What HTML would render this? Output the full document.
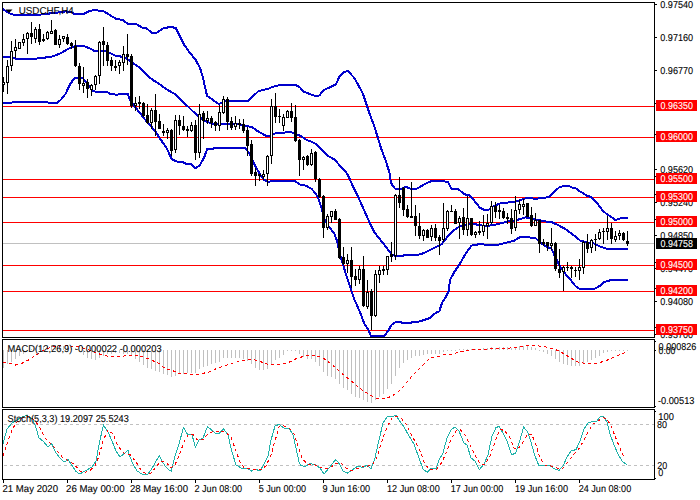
<!DOCTYPE html>
<html><head><meta charset="utf-8"><title>USDCHF,H4</title>
<style>html,body{margin:0;padding:0;background:#fff}svg{display:block}text{font-family:"Liberation Sans",Arial,sans-serif;text-rendering:geometricPrecision}</style></head>
<body>
<svg width="700" height="500" viewBox="0 0 700 500">
<rect width="700" height="500" fill="#fff"/>
<g shape-rendering="crispEdges">
<rect x="3" y="243" width="651" height="1" fill="#C0C0C0"/>
<rect x="3" y="106" width="652" height="1" fill="#FF0000"/>
<rect x="3" y="137" width="652" height="1" fill="#FF0000"/>
<rect x="3" y="179" width="652" height="1" fill="#FF0000"/>
<rect x="3" y="197" width="652" height="1" fill="#FF0000"/>
<rect x="3" y="222" width="652" height="1" fill="#FF0000"/>
<rect x="3" y="265" width="652" height="1" fill="#FF0000"/>
<rect x="3" y="291" width="652" height="1" fill="#FF0000"/>
<rect x="3" y="330" width="652" height="1" fill="#FF0000"/>
</g>
<g shape-rendering="crispEdges" fill="#C0C0C0">
<rect x="3" y="350" width="1" height="18"/>
<rect x="7" y="350" width="1" height="14"/>
<rect x="11" y="350" width="1" height="12"/>
<rect x="15" y="350" width="1" height="9"/>
<rect x="19" y="350" width="1" height="6"/>
<rect x="23" y="350" width="1" height="4"/>
<rect x="27" y="350" width="1" height="1"/>
<rect x="31" y="349" width="1" height="1"/>
<rect x="35" y="348" width="1" height="2"/>
<rect x="39" y="346" width="1" height="4"/>
<rect x="43" y="346" width="1" height="4"/>
<rect x="47" y="346" width="1" height="4"/>
<rect x="51" y="345" width="1" height="5"/>
<rect x="55" y="345" width="1" height="5"/>
<rect x="59" y="346" width="1" height="4"/>
<rect x="63" y="346" width="1" height="4"/>
<rect x="67" y="346" width="1" height="4"/>
<rect x="71" y="348" width="1" height="2"/>
<rect x="75" y="348" width="1" height="2"/>
<rect x="79" y="350" width="1" height="1"/>
<rect x="83" y="350" width="1" height="5"/>
<rect x="87" y="350" width="1" height="8"/>
<rect x="91" y="350" width="1" height="9"/>
<rect x="95" y="350" width="1" height="10"/>
<rect x="99" y="350" width="1" height="8"/>
<rect x="103" y="350" width="1" height="6"/>
<rect x="107" y="350" width="1" height="4"/>
<rect x="111" y="350" width="1" height="4"/>
<rect x="115" y="350" width="1" height="3"/>
<rect x="119" y="350" width="1" height="3"/>
<rect x="123" y="350" width="1" height="4"/>
<rect x="127" y="350" width="1" height="4"/>
<rect x="131" y="350" width="1" height="6"/>
<rect x="135" y="350" width="1" height="9"/>
<rect x="139" y="350" width="1" height="12"/>
<rect x="143" y="350" width="1" height="15"/>
<rect x="147" y="350" width="1" height="18"/>
<rect x="151" y="350" width="1" height="19"/>
<rect x="155" y="350" width="1" height="21"/>
<rect x="159" y="350" width="1" height="22"/>
<rect x="163" y="350" width="1" height="24"/>
<rect x="167" y="350" width="1" height="25"/>
<rect x="171" y="350" width="1" height="27"/>
<rect x="175" y="350" width="1" height="26"/>
<rect x="179" y="350" width="1" height="24"/>
<rect x="183" y="350" width="1" height="24"/>
<rect x="187" y="350" width="1" height="23"/>
<rect x="191" y="350" width="1" height="23"/>
<rect x="195" y="350" width="1" height="23"/>
<rect x="199" y="350" width="1" height="19"/>
<rect x="203" y="350" width="1" height="17"/>
<rect x="207" y="350" width="1" height="16"/>
<rect x="211" y="350" width="1" height="14"/>
<rect x="215" y="350" width="1" height="13"/>
<rect x="219" y="350" width="1" height="12"/>
<rect x="223" y="350" width="1" height="8"/>
<rect x="227" y="350" width="1" height="8"/>
<rect x="231" y="350" width="1" height="8"/>
<rect x="235" y="350" width="1" height="8"/>
<rect x="239" y="350" width="1" height="8"/>
<rect x="243" y="350" width="1" height="9"/>
<rect x="247" y="350" width="1" height="11"/>
<rect x="251" y="350" width="1" height="14"/>
<rect x="255" y="350" width="1" height="18"/>
<rect x="259" y="350" width="1" height="20"/>
<rect x="263" y="350" width="1" height="20"/>
<rect x="267" y="350" width="1" height="19"/>
<rect x="271" y="350" width="1" height="14"/>
<rect x="275" y="350" width="1" height="10"/>
<rect x="279" y="350" width="1" height="8"/>
<rect x="283" y="350" width="1" height="5"/>
<rect x="287" y="350" width="1" height="1"/>
<rect x="291" y="350" width="1" height="1"/>
<rect x="295" y="350" width="1" height="1"/>
<rect x="299" y="350" width="1" height="4"/>
<rect x="303" y="350" width="1" height="7"/>
<rect x="307" y="350" width="1" height="9"/>
<rect x="311" y="350" width="1" height="9"/>
<rect x="315" y="350" width="1" height="12"/>
<rect x="319" y="350" width="1" height="16"/>
<rect x="323" y="350" width="1" height="22"/>
<rect x="327" y="350" width="1" height="26"/>
<rect x="331" y="350" width="1" height="27"/>
<rect x="335" y="350" width="1" height="29"/>
<rect x="339" y="350" width="1" height="34"/>
<rect x="343" y="350" width="1" height="38"/>
<rect x="347" y="350" width="1" height="40"/>
<rect x="351" y="350" width="1" height="44"/>
<rect x="355" y="350" width="1" height="47"/>
<rect x="359" y="350" width="1" height="48"/>
<rect x="363" y="350" width="1" height="50"/>
<rect x="367" y="350" width="1" height="52"/>
<rect x="371" y="350" width="1" height="53"/>
<rect x="375" y="350" width="1" height="50"/>
<rect x="379" y="350" width="1" height="47"/>
<rect x="383" y="350" width="1" height="44"/>
<rect x="387" y="350" width="1" height="39"/>
<rect x="391" y="350" width="1" height="34"/>
<rect x="395" y="350" width="1" height="26"/>
<rect x="399" y="350" width="1" height="18"/>
<rect x="403" y="350" width="1" height="13"/>
<rect x="407" y="350" width="1" height="10"/>
<rect x="411" y="350" width="1" height="8"/>
<rect x="415" y="350" width="1" height="6"/>
<rect x="419" y="350" width="1" height="6"/>
<rect x="423" y="350" width="1" height="5"/>
<rect x="427" y="350" width="1" height="4"/>
<rect x="431" y="350" width="1" height="4"/>
<rect x="435" y="350" width="1" height="4"/>
<rect x="439" y="350" width="1" height="4"/>
<rect x="443" y="350" width="1" height="2"/>
<rect x="447" y="350" width="1" height="1"/>
<rect x="451" y="350" width="1" height="1"/>
<rect x="455" y="350" width="1" height="1"/>
<rect x="459" y="349" width="1" height="1"/>
<rect x="463" y="349" width="1" height="1"/>
<rect x="467" y="349" width="1" height="1"/>
<rect x="471" y="349" width="1" height="1"/>
<rect x="475" y="349" width="1" height="1"/>
<rect x="479" y="349" width="1" height="1"/>
<rect x="483" y="348" width="1" height="2"/>
<rect x="487" y="348" width="1" height="2"/>
<rect x="491" y="347" width="1" height="3"/>
<rect x="495" y="348" width="1" height="2"/>
<rect x="499" y="347" width="1" height="3"/>
<rect x="503" y="347" width="1" height="3"/>
<rect x="507" y="347" width="1" height="3"/>
<rect x="511" y="348" width="1" height="2"/>
<rect x="515" y="347" width="1" height="3"/>
<rect x="519" y="346" width="1" height="4"/>
<rect x="523" y="346" width="1" height="4"/>
<rect x="527" y="346" width="1" height="4"/>
<rect x="531" y="347" width="1" height="3"/>
<rect x="535" y="348" width="1" height="2"/>
<rect x="539" y="350" width="1" height="1"/>
<rect x="543" y="350" width="1" height="2"/>
<rect x="547" y="350" width="1" height="4"/>
<rect x="551" y="350" width="1" height="6"/>
<rect x="555" y="350" width="1" height="9"/>
<rect x="559" y="350" width="1" height="12"/>
<rect x="563" y="350" width="1" height="14"/>
<rect x="567" y="350" width="1" height="15"/>
<rect x="571" y="350" width="1" height="16"/>
<rect x="575" y="350" width="1" height="16"/>
<rect x="579" y="350" width="1" height="16"/>
<rect x="583" y="350" width="1" height="13"/>
<rect x="587" y="350" width="1" height="12"/>
<rect x="591" y="350" width="1" height="10"/>
<rect x="595" y="350" width="1" height="8"/>
<rect x="599" y="350" width="1" height="6"/>
<rect x="603" y="350" width="1" height="3"/>
<rect x="607" y="350" width="1" height="2"/>
<rect x="611" y="350" width="1" height="1"/>
<rect x="615" y="350" width="1" height="1"/>
<rect x="619" y="350" width="1" height="1"/>
<rect x="623" y="350" width="1" height="1"/>
<rect x="627" y="350" width="1" height="1"/>
</g>
<g shape-rendering="crispEdges" stroke="#C0C0C0" stroke-width="1" stroke-dasharray="3,3">
<line x1="4" y1="424.5" x2="654" y2="424.5"/>
<line x1="4" y1="465.5" x2="654" y2="465.5"/>
</g>
<g fill="none" stroke="#0000CC" stroke-width="2" stroke-linejoin="round" stroke-linecap="butt" shape-rendering="crispEdges">
<polyline points="2.9,9.3 10.0,13.6 15.7,15.4 34.0,15.4 43.0,14.3 57.0,12.6 65.7,11.4 71.4,12.1 74.3,14.3 83.0,14.3 88.6,11.4 92.9,10.3 102.9,10.7 108.6,14.3 115.7,18.6 122.9,20.0 127.9,23.9 135.7,23.9 142.9,27.9 147.0,28.6 151.4,32.6 157.0,32.6 162.9,28.6 170.0,26.9 175.7,27.9 180.0,36.4 184.3,45.0 190.0,52.9 195.7,60.0 200.0,67.9 202.9,77.1 205.0,87.1 207.0,95.7 212.9,100.0 218.6,104.0 221.4,102.9 225.7,100.9 240.0,101.1 247.0,101.5 252.9,96.4 258.6,91.0 268.6,88.6 275.7,85.7 287.0,84.8 295.7,85.0 300.0,87.5 303.6,91.7 310.0,94.0 314.3,95.7 319.3,95.5 323.6,90.0 328.6,87.9 335.7,84.5 339.3,77.1 343.6,72.1 347.9,71.1 354.3,77.9 358.6,85.7 362.9,93.6 366.4,104.3 369.3,112.9 372.0,120.0 374.3,126.4 377.9,137.9 381.4,149.3 385.7,160.7 389.3,172.1 390.7,180.7 392.0,185.0 395.7,189.3 401.4,189.3 405.7,186.7 410.0,188.6 417.0,188.6 424.3,184.3 431.4,181.0 440.0,180.7 447.9,181.9 451.4,188.6 458.6,189.3 464.3,194.3 468.6,195.0 474.3,200.7 480.0,207.9 484.3,209.8 488.6,209.7 494.3,205.7 501.4,203.1 512.9,202.1 518.6,200.7 525.7,198.3 537.0,198.6 544.3,197.9 550.0,196.4 554.3,191.8 559.3,187.3 564.3,185.8 568.6,185.8 571.4,187.4 575.7,188.4 580.0,191.4 587.0,195.7 591.4,197.1 597.0,202.9 602.9,210.7 607.0,214.3 611.4,217.1 615.0,219.7 617.0,219.5 621.4,217.9 628.0,217.9"/>
<polyline points="2.9,56.9 11.4,57.1 15.7,58.9 32.9,58.9 42.9,57.9 52.9,56.4 60.0,53.6 68.6,48.6 75.7,45.7 82.9,45.7 88.6,47.9 94.3,50.8 107.0,51.4 115.7,56.0 124.3,56.9 131.4,62.0 138.6,67.0 147.0,75.3 152.9,80.0 158.6,83.6 167.0,89.5 175.7,94.6 182.9,102.1 185.7,104.3 192.9,111.4 198.6,116.4 204.3,120.7 211.4,123.6 221.4,124.3 230.0,123.6 238.6,124.0 244.3,126.0 251.4,126.7 257.0,130.7 265.7,135.7 270.5,135.7 276.0,132.9 287.0,132.4 290.0,131.6 294.3,133.6 300.0,135.7 307.0,140.0 314.3,142.9 320.0,147.9 325.7,153.6 328.6,156.4 334.3,159.3 340.0,165.7 345.7,171.4 349.3,177.9 352.9,186.4 358.6,197.9 364.3,210.7 370.0,223.6 374.3,232.1 380.0,239.3 385.7,246.4 391.4,254.3 394.3,255.7 402.9,255.7 405.7,254.7 418.6,254.7 424.3,252.9 432.9,248.6 441.4,244.3 444.3,240.7 450.0,233.6 457.0,227.9 462.9,225.0 472.9,223.6 478.6,225.0 485.7,226.0 494.3,225.0 508.6,221.4 517.0,220.0 525.7,217.4 531.4,218.3 537.0,219.7 542.9,221.1 551.4,222.1 557.0,224.5 565.7,229.3 574.3,235.7 580.0,240.4 587.0,242.4 594.3,243.6 600.0,246.6 607.0,248.7 628.0,248.8"/>
<polyline points="2.9,102.9 11.4,102.9 12.9,101.7 47.0,101.7 48.6,102.9 57.0,102.9 61.4,99.3 65.7,93.6 70.0,84.3 74.3,78.3 82.9,78.3 87.0,82.9 92.9,90.7 95.7,91.9 107.0,91.7 110.0,94.0 115.7,94.6 124.3,94.3 127.9,94.3 130.7,101.4 132.9,104.3 137.0,109.3 141.4,115.0 147.0,122.0 150.0,124.5 152.9,128.5 155.7,132.0 160.0,138.6 167.0,148.6 171.4,158.6 175.7,161.4 182.9,162.1 185.7,163.6 191.4,164.0 195.7,168.3 200.0,165.0 204.3,157.1 207.0,149.3 214.3,148.4 215.7,147.8 242.9,147.8 245.7,148.6 250.0,154.3 254.3,164.3 260.0,174.3 264.3,180.0 268.6,181.7 274.3,180.7 294.3,180.7 300.0,184.6 305.7,185.7 311.4,188.6 315.7,193.6 318.6,199.3 321.4,207.9 325.0,220.7 328.6,226.4 334.3,233.6 337.0,240.7 338.6,247.9 341.4,259.3 345.7,273.6 350.0,286.4 354.3,299.3 360.0,312.1 364.3,323.6 368.6,330.0 370.7,335.7 384.3,335.7 387.9,331.4 391.4,325.0 395.7,321.9 401.4,321.9 402.0,322.8 411.4,322.8 412.9,321.7 418.6,321.7 424.3,320.0 430.0,317.9 435.7,312.9 439.3,311.4 442.0,302.9 445.7,297.1 448.6,291.4 450.0,280.0 454.3,272.1 460.0,263.6 465.7,253.6 471.4,245.7 480.0,244.0 488.6,245.0 498.6,244.7 508.6,242.1 514.3,240.7 520.0,237.1 527.0,237.1 535.7,238.3 540.0,242.5 545.7,246.4 551.4,248.6 555.7,257.9 560.0,266.4 565.7,274.3 571.4,280.7 575.7,286.4 579.3,288.6 595.0,288.6 600.0,285.7 604.3,282.1 610.0,280.4 614.3,279.7 628.0,279.7"/>
</g>
<g shape-rendering="crispEdges">
<rect x="3" y="77" width="1" height="15" fill="#000"/>
<rect x="2" y="82" width="3" height="3" fill="#000"/>
<rect x="3" y="83" width="1" height="1" fill="#fff"/>
<rect x="7" y="60" width="1" height="34" fill="#000"/>
<rect x="6" y="66" width="3" height="17" fill="#000"/>
<rect x="7" y="67" width="1" height="15" fill="#fff"/>
<rect x="11" y="41" width="1" height="30" fill="#000"/>
<rect x="10" y="51" width="3" height="15" fill="#000"/>
<rect x="11" y="52" width="1" height="13" fill="#fff"/>
<rect x="15" y="39" width="1" height="19" fill="#000"/>
<rect x="14" y="47" width="3" height="4" fill="#000"/>
<rect x="15" y="48" width="1" height="2" fill="#fff"/>
<rect x="19" y="42" width="1" height="7" fill="#000"/>
<rect x="18" y="42" width="3" height="7" fill="#000"/>
<rect x="19" y="43" width="1" height="5" fill="#fff"/>
<rect x="23" y="34" width="1" height="12" fill="#000"/>
<rect x="22" y="39" width="3" height="4" fill="#000"/>
<rect x="23" y="40" width="1" height="2" fill="#fff"/>
<rect x="27" y="32" width="1" height="22" fill="#000"/>
<rect x="26" y="33" width="3" height="6" fill="#000"/>
<rect x="27" y="34" width="1" height="4" fill="#fff"/>
<rect x="31" y="22" width="1" height="22" fill="#000"/>
<rect x="30" y="33" width="3" height="4" fill="#000"/>
<rect x="35" y="27" width="1" height="16" fill="#000"/>
<rect x="34" y="29" width="3" height="10" fill="#000"/>
<rect x="35" y="30" width="1" height="8" fill="#fff"/>
<rect x="39" y="24" width="1" height="21" fill="#000"/>
<rect x="38" y="29" width="3" height="13" fill="#000"/>
<rect x="43" y="34" width="1" height="8" fill="#000"/>
<rect x="42" y="39" width="3" height="2" fill="#000"/>
<rect x="47" y="31" width="1" height="9" fill="#000"/>
<rect x="46" y="32" width="3" height="7" fill="#000"/>
<rect x="47" y="33" width="1" height="5" fill="#fff"/>
<rect x="51" y="20" width="1" height="14" fill="#000"/>
<rect x="50" y="31" width="3" height="3" fill="#000"/>
<rect x="51" y="32" width="1" height="1" fill="#fff"/>
<rect x="55" y="29" width="1" height="16" fill="#000"/>
<rect x="54" y="30" width="3" height="15" fill="#000"/>
<rect x="59" y="35" width="1" height="13" fill="#000"/>
<rect x="58" y="39" width="3" height="6" fill="#000"/>
<rect x="59" y="40" width="1" height="4" fill="#fff"/>
<rect x="63" y="36" width="1" height="6" fill="#000"/>
<rect x="62" y="36" width="3" height="3" fill="#000"/>
<rect x="63" y="37" width="1" height="1" fill="#fff"/>
<rect x="67" y="34" width="1" height="11" fill="#000"/>
<rect x="66" y="37" width="3" height="7" fill="#000"/>
<rect x="71" y="42" width="1" height="7" fill="#000"/>
<rect x="70" y="43" width="3" height="3" fill="#000"/>
<rect x="75" y="40" width="1" height="27" fill="#000"/>
<rect x="74" y="46" width="3" height="20" fill="#000"/>
<rect x="79" y="63" width="1" height="27" fill="#000"/>
<rect x="78" y="66" width="3" height="18" fill="#000"/>
<rect x="83" y="67" width="1" height="26" fill="#000"/>
<rect x="82" y="83" width="3" height="3" fill="#000"/>
<rect x="83" y="84" width="1" height="1" fill="#fff"/>
<rect x="87" y="79" width="1" height="19" fill="#000"/>
<rect x="86" y="82" width="3" height="7" fill="#000"/>
<rect x="91" y="84" width="1" height="12" fill="#000"/>
<rect x="90" y="85" width="3" height="5" fill="#000"/>
<rect x="91" y="86" width="1" height="3" fill="#fff"/>
<rect x="95" y="75" width="1" height="15" fill="#000"/>
<rect x="94" y="76" width="3" height="9" fill="#000"/>
<rect x="95" y="77" width="1" height="7" fill="#fff"/>
<rect x="99" y="41" width="1" height="43" fill="#000"/>
<rect x="98" y="42" width="3" height="34" fill="#000"/>
<rect x="99" y="43" width="1" height="32" fill="#fff"/>
<rect x="103" y="27" width="1" height="39" fill="#000"/>
<rect x="102" y="41" width="3" height="4" fill="#000"/>
<rect x="107" y="42" width="1" height="24" fill="#000"/>
<rect x="106" y="45" width="3" height="16" fill="#000"/>
<rect x="111" y="57" width="1" height="14" fill="#000"/>
<rect x="110" y="60" width="3" height="6" fill="#000"/>
<rect x="115" y="60" width="1" height="11" fill="#000"/>
<rect x="114" y="66" width="3" height="2" fill="#000"/>
<rect x="119" y="60" width="1" height="14" fill="#000"/>
<rect x="118" y="62" width="3" height="4" fill="#000"/>
<rect x="119" y="63" width="1" height="2" fill="#fff"/>
<rect x="123" y="46" width="1" height="25" fill="#000"/>
<rect x="122" y="54" width="3" height="9" fill="#000"/>
<rect x="123" y="55" width="1" height="7" fill="#fff"/>
<rect x="127" y="34" width="1" height="31" fill="#000"/>
<rect x="126" y="54" width="3" height="3" fill="#000"/>
<rect x="131" y="54" width="1" height="54" fill="#000"/>
<rect x="130" y="56" width="3" height="50" fill="#000"/>
<rect x="135" y="97" width="1" height="14" fill="#000"/>
<rect x="134" y="103" width="3" height="3" fill="#000"/>
<rect x="135" y="104" width="1" height="1" fill="#fff"/>
<rect x="139" y="96" width="1" height="13" fill="#000"/>
<rect x="138" y="102" width="3" height="2" fill="#000"/>
<rect x="143" y="102" width="1" height="15" fill="#000"/>
<rect x="142" y="103" width="3" height="13" fill="#000"/>
<rect x="147" y="104" width="1" height="20" fill="#000"/>
<rect x="146" y="115" width="3" height="8" fill="#000"/>
<rect x="151" y="108" width="1" height="21" fill="#000"/>
<rect x="150" y="110" width="3" height="13" fill="#000"/>
<rect x="151" y="111" width="1" height="11" fill="#fff"/>
<rect x="155" y="94" width="1" height="42" fill="#000"/>
<rect x="154" y="110" width="3" height="12" fill="#000"/>
<rect x="159" y="114" width="1" height="15" fill="#000"/>
<rect x="158" y="121" width="3" height="8" fill="#000"/>
<rect x="163" y="124" width="1" height="12" fill="#000"/>
<rect x="162" y="131" width="3" height="2" fill="#000"/>
<rect x="167" y="128" width="1" height="11" fill="#000"/>
<rect x="166" y="130" width="3" height="3" fill="#000"/>
<rect x="167" y="131" width="1" height="1" fill="#fff"/>
<rect x="171" y="129" width="1" height="27" fill="#000"/>
<rect x="170" y="130" width="3" height="21" fill="#000"/>
<rect x="175" y="115" width="1" height="38" fill="#000"/>
<rect x="174" y="120" width="3" height="30" fill="#000"/>
<rect x="175" y="121" width="1" height="28" fill="#fff"/>
<rect x="179" y="115" width="1" height="20" fill="#000"/>
<rect x="178" y="120" width="3" height="6" fill="#000"/>
<rect x="183" y="116" width="1" height="15" fill="#000"/>
<rect x="182" y="126" width="3" height="4" fill="#000"/>
<rect x="187" y="126" width="1" height="11" fill="#000"/>
<rect x="186" y="129" width="3" height="2" fill="#000"/>
<rect x="191" y="122" width="1" height="10" fill="#000"/>
<rect x="190" y="125" width="3" height="6" fill="#000"/>
<rect x="191" y="126" width="1" height="4" fill="#fff"/>
<rect x="195" y="120" width="1" height="40" fill="#000"/>
<rect x="194" y="125" width="3" height="28" fill="#000"/>
<rect x="199" y="104" width="1" height="54" fill="#000"/>
<rect x="198" y="114" width="3" height="39" fill="#000"/>
<rect x="199" y="115" width="1" height="37" fill="#fff"/>
<rect x="203" y="111" width="1" height="28" fill="#000"/>
<rect x="202" y="113" width="3" height="8" fill="#000"/>
<rect x="207" y="111" width="1" height="13" fill="#000"/>
<rect x="206" y="118" width="3" height="3" fill="#000"/>
<rect x="207" y="119" width="1" height="1" fill="#fff"/>
<rect x="211" y="116" width="1" height="12" fill="#000"/>
<rect x="210" y="118" width="3" height="5" fill="#000"/>
<rect x="215" y="121" width="1" height="10" fill="#000"/>
<rect x="214" y="122" width="3" height="4" fill="#000"/>
<rect x="219" y="105" width="1" height="26" fill="#000"/>
<rect x="218" y="112" width="3" height="14" fill="#000"/>
<rect x="219" y="113" width="1" height="12" fill="#fff"/>
<rect x="223" y="96" width="1" height="18" fill="#000"/>
<rect x="222" y="99" width="3" height="14" fill="#000"/>
<rect x="223" y="100" width="1" height="12" fill="#fff"/>
<rect x="227" y="97" width="1" height="33" fill="#000"/>
<rect x="226" y="99" width="3" height="23" fill="#000"/>
<rect x="231" y="117" width="1" height="13" fill="#000"/>
<rect x="230" y="121" width="3" height="7" fill="#000"/>
<rect x="235" y="116" width="1" height="14" fill="#000"/>
<rect x="234" y="123" width="3" height="4" fill="#000"/>
<rect x="235" y="124" width="1" height="2" fill="#fff"/>
<rect x="239" y="119" width="1" height="10" fill="#000"/>
<rect x="238" y="123" width="3" height="2" fill="#000"/>
<rect x="243" y="119" width="1" height="14" fill="#000"/>
<rect x="242" y="124" width="3" height="7" fill="#000"/>
<rect x="247" y="127" width="1" height="29" fill="#000"/>
<rect x="246" y="130" width="3" height="16" fill="#000"/>
<rect x="251" y="140" width="1" height="36" fill="#000"/>
<rect x="250" y="144" width="3" height="30" fill="#000"/>
<rect x="255" y="168" width="1" height="18" fill="#000"/>
<rect x="254" y="172" width="3" height="4" fill="#000"/>
<rect x="259" y="174" width="1" height="7" fill="#000"/>
<rect x="258" y="174" width="3" height="2" fill="#000"/>
<rect x="263" y="170" width="1" height="10" fill="#000"/>
<rect x="262" y="174" width="3" height="3" fill="#000"/>
<rect x="263" y="175" width="1" height="1" fill="#fff"/>
<rect x="267" y="155" width="1" height="31" fill="#000"/>
<rect x="266" y="156" width="3" height="18" fill="#000"/>
<rect x="267" y="157" width="1" height="16" fill="#fff"/>
<rect x="271" y="99" width="1" height="65" fill="#000"/>
<rect x="270" y="106" width="3" height="50" fill="#000"/>
<rect x="271" y="107" width="1" height="48" fill="#fff"/>
<rect x="275" y="93" width="1" height="30" fill="#000"/>
<rect x="274" y="106" width="3" height="11" fill="#000"/>
<rect x="279" y="109" width="1" height="14" fill="#000"/>
<rect x="278" y="116" width="3" height="1" fill="#000"/>
<rect x="283" y="114" width="1" height="17" fill="#000"/>
<rect x="282" y="117" width="3" height="9" fill="#000"/>
<rect x="283" y="118" width="1" height="7" fill="#fff"/>
<rect x="287" y="110" width="1" height="8" fill="#000"/>
<rect x="286" y="111" width="3" height="7" fill="#000"/>
<rect x="287" y="112" width="1" height="5" fill="#fff"/>
<rect x="291" y="103" width="1" height="19" fill="#000"/>
<rect x="290" y="111" width="3" height="7" fill="#000"/>
<rect x="295" y="105" width="1" height="37" fill="#000"/>
<rect x="294" y="117" width="3" height="24" fill="#000"/>
<rect x="299" y="139" width="1" height="37" fill="#000"/>
<rect x="298" y="140" width="3" height="20" fill="#000"/>
<rect x="303" y="156" width="1" height="14" fill="#000"/>
<rect x="302" y="157" width="3" height="3" fill="#000"/>
<rect x="303" y="158" width="1" height="1" fill="#fff"/>
<rect x="307" y="155" width="1" height="11" fill="#000"/>
<rect x="306" y="156" width="3" height="9" fill="#000"/>
<rect x="311" y="149" width="1" height="17" fill="#000"/>
<rect x="310" y="153" width="3" height="12" fill="#000"/>
<rect x="311" y="154" width="1" height="10" fill="#fff"/>
<rect x="315" y="151" width="1" height="31" fill="#000"/>
<rect x="314" y="152" width="3" height="27" fill="#000"/>
<rect x="319" y="178" width="1" height="20" fill="#000"/>
<rect x="318" y="179" width="3" height="18" fill="#000"/>
<rect x="323" y="195" width="1" height="43" fill="#000"/>
<rect x="322" y="196" width="3" height="32" fill="#000"/>
<rect x="327" y="214" width="1" height="16" fill="#000"/>
<rect x="326" y="216" width="3" height="12" fill="#000"/>
<rect x="327" y="217" width="1" height="10" fill="#fff"/>
<rect x="331" y="211" width="1" height="12" fill="#000"/>
<rect x="330" y="211" width="3" height="6" fill="#000"/>
<rect x="331" y="212" width="1" height="4" fill="#fff"/>
<rect x="335" y="209" width="1" height="11" fill="#000"/>
<rect x="334" y="211" width="3" height="9" fill="#000"/>
<rect x="339" y="218" width="1" height="41" fill="#000"/>
<rect x="338" y="219" width="3" height="39" fill="#000"/>
<rect x="343" y="247" width="1" height="18" fill="#000"/>
<rect x="342" y="257" width="3" height="7" fill="#000"/>
<rect x="347" y="254" width="1" height="19" fill="#000"/>
<rect x="346" y="260" width="3" height="4" fill="#000"/>
<rect x="347" y="261" width="1" height="2" fill="#fff"/>
<rect x="351" y="247" width="1" height="41" fill="#000"/>
<rect x="350" y="260" width="3" height="17" fill="#000"/>
<rect x="355" y="269" width="1" height="17" fill="#000"/>
<rect x="354" y="276" width="3" height="4" fill="#000"/>
<rect x="359" y="266" width="1" height="18" fill="#000"/>
<rect x="358" y="269" width="3" height="11" fill="#000"/>
<rect x="359" y="270" width="1" height="9" fill="#fff"/>
<rect x="363" y="256" width="1" height="51" fill="#000"/>
<rect x="362" y="269" width="3" height="37" fill="#000"/>
<rect x="367" y="280" width="1" height="29" fill="#000"/>
<rect x="366" y="292" width="3" height="15" fill="#000"/>
<rect x="367" y="293" width="1" height="13" fill="#fff"/>
<rect x="371" y="289" width="1" height="41" fill="#000"/>
<rect x="370" y="291" width="3" height="25" fill="#000"/>
<rect x="375" y="270" width="1" height="47" fill="#000"/>
<rect x="374" y="274" width="3" height="42" fill="#000"/>
<rect x="375" y="275" width="1" height="40" fill="#fff"/>
<rect x="379" y="266" width="1" height="17" fill="#000"/>
<rect x="378" y="270" width="3" height="5" fill="#000"/>
<rect x="379" y="271" width="1" height="3" fill="#fff"/>
<rect x="383" y="266" width="1" height="9" fill="#000"/>
<rect x="382" y="269" width="3" height="2" fill="#000"/>
<rect x="387" y="256" width="1" height="19" fill="#000"/>
<rect x="386" y="256" width="3" height="14" fill="#000"/>
<rect x="387" y="257" width="1" height="12" fill="#fff"/>
<rect x="391" y="242" width="1" height="20" fill="#000"/>
<rect x="390" y="254" width="3" height="3" fill="#000"/>
<rect x="395" y="194" width="1" height="66" fill="#000"/>
<rect x="394" y="195" width="3" height="61" fill="#000"/>
<rect x="395" y="196" width="1" height="59" fill="#fff"/>
<rect x="399" y="177" width="1" height="31" fill="#000"/>
<rect x="398" y="195" width="3" height="8" fill="#000"/>
<rect x="403" y="187" width="1" height="29" fill="#000"/>
<rect x="402" y="188" width="3" height="22" fill="#000"/>
<rect x="407" y="205" width="1" height="13" fill="#000"/>
<rect x="406" y="209" width="3" height="8" fill="#000"/>
<rect x="411" y="182" width="1" height="36" fill="#000"/>
<rect x="410" y="216" width="3" height="2" fill="#000"/>
<rect x="415" y="205" width="1" height="31" fill="#000"/>
<rect x="414" y="216" width="3" height="10" fill="#000"/>
<rect x="419" y="213" width="1" height="26" fill="#000"/>
<rect x="418" y="226" width="3" height="10" fill="#000"/>
<rect x="423" y="229" width="1" height="12" fill="#000"/>
<rect x="422" y="230" width="3" height="6" fill="#000"/>
<rect x="423" y="231" width="1" height="4" fill="#fff"/>
<rect x="427" y="229" width="1" height="9" fill="#000"/>
<rect x="426" y="230" width="3" height="8" fill="#000"/>
<rect x="431" y="225" width="1" height="16" fill="#000"/>
<rect x="430" y="228" width="3" height="9" fill="#000"/>
<rect x="431" y="229" width="1" height="7" fill="#fff"/>
<rect x="435" y="224" width="1" height="17" fill="#000"/>
<rect x="434" y="228" width="3" height="10" fill="#000"/>
<rect x="439" y="235" width="1" height="20" fill="#000"/>
<rect x="438" y="237" width="3" height="4" fill="#000"/>
<rect x="443" y="203" width="1" height="39" fill="#000"/>
<rect x="442" y="228" width="3" height="12" fill="#000"/>
<rect x="443" y="229" width="1" height="10" fill="#fff"/>
<rect x="447" y="210" width="1" height="21" fill="#000"/>
<rect x="446" y="211" width="3" height="18" fill="#000"/>
<rect x="447" y="212" width="1" height="16" fill="#fff"/>
<rect x="451" y="205" width="1" height="7" fill="#000"/>
<rect x="450" y="211" width="3" height="1" fill="#000"/>
<rect x="455" y="209" width="1" height="15" fill="#000"/>
<rect x="454" y="211" width="3" height="13" fill="#000"/>
<rect x="459" y="216" width="1" height="23" fill="#000"/>
<rect x="458" y="218" width="3" height="5" fill="#000"/>
<rect x="459" y="219" width="1" height="3" fill="#fff"/>
<rect x="463" y="208" width="1" height="27" fill="#000"/>
<rect x="462" y="217" width="3" height="13" fill="#000"/>
<rect x="467" y="196" width="1" height="40" fill="#000"/>
<rect x="466" y="218" width="3" height="12" fill="#000"/>
<rect x="467" y="219" width="1" height="10" fill="#fff"/>
<rect x="471" y="218" width="1" height="18" fill="#000"/>
<rect x="470" y="218" width="3" height="17" fill="#000"/>
<rect x="475" y="231" width="1" height="7" fill="#000"/>
<rect x="474" y="232" width="3" height="3" fill="#000"/>
<rect x="475" y="233" width="1" height="1" fill="#fff"/>
<rect x="479" y="221" width="1" height="14" fill="#000"/>
<rect x="478" y="231" width="3" height="2" fill="#000"/>
<rect x="483" y="215" width="1" height="21" fill="#000"/>
<rect x="482" y="225" width="3" height="7" fill="#000"/>
<rect x="483" y="226" width="1" height="5" fill="#fff"/>
<rect x="487" y="214" width="1" height="25" fill="#000"/>
<rect x="486" y="223" width="3" height="3" fill="#000"/>
<rect x="487" y="224" width="1" height="1" fill="#fff"/>
<rect x="491" y="201" width="1" height="23" fill="#000"/>
<rect x="490" y="206" width="3" height="17" fill="#000"/>
<rect x="491" y="207" width="1" height="15" fill="#fff"/>
<rect x="495" y="202" width="1" height="16" fill="#000"/>
<rect x="494" y="206" width="3" height="6" fill="#000"/>
<rect x="499" y="205" width="1" height="14" fill="#000"/>
<rect x="498" y="210" width="3" height="2" fill="#000"/>
<rect x="503" y="208" width="1" height="11" fill="#000"/>
<rect x="502" y="211" width="3" height="7" fill="#000"/>
<rect x="507" y="213" width="1" height="11" fill="#000"/>
<rect x="506" y="217" width="3" height="2" fill="#000"/>
<rect x="511" y="209" width="1" height="25" fill="#000"/>
<rect x="510" y="218" width="3" height="11" fill="#000"/>
<rect x="515" y="196" width="1" height="35" fill="#000"/>
<rect x="514" y="210" width="3" height="18" fill="#000"/>
<rect x="515" y="211" width="1" height="16" fill="#fff"/>
<rect x="519" y="200" width="1" height="14" fill="#000"/>
<rect x="518" y="204" width="3" height="6" fill="#000"/>
<rect x="519" y="205" width="1" height="4" fill="#fff"/>
<rect x="523" y="199" width="1" height="16" fill="#000"/>
<rect x="522" y="204" width="3" height="3" fill="#000"/>
<rect x="523" y="205" width="1" height="1" fill="#fff"/>
<rect x="527" y="203" width="1" height="14" fill="#000"/>
<rect x="526" y="203" width="3" height="14" fill="#000"/>
<rect x="531" y="207" width="1" height="20" fill="#000"/>
<rect x="530" y="215" width="3" height="11" fill="#000"/>
<rect x="535" y="213" width="1" height="13" fill="#000"/>
<rect x="534" y="220" width="3" height="6" fill="#000"/>
<rect x="535" y="221" width="1" height="4" fill="#fff"/>
<rect x="539" y="220" width="1" height="33" fill="#000"/>
<rect x="538" y="220" width="3" height="24" fill="#000"/>
<rect x="543" y="239" width="1" height="7" fill="#000"/>
<rect x="542" y="242" width="3" height="2" fill="#000"/>
<rect x="547" y="242" width="1" height="9" fill="#000"/>
<rect x="546" y="242" width="3" height="4" fill="#000"/>
<rect x="551" y="228" width="1" height="22" fill="#000"/>
<rect x="550" y="243" width="3" height="3" fill="#000"/>
<rect x="551" y="244" width="1" height="1" fill="#fff"/>
<rect x="555" y="242" width="1" height="29" fill="#000"/>
<rect x="554" y="243" width="3" height="26" fill="#000"/>
<rect x="559" y="249" width="1" height="29" fill="#000"/>
<rect x="558" y="269" width="3" height="4" fill="#000"/>
<rect x="563" y="266" width="1" height="25" fill="#000"/>
<rect x="562" y="267" width="3" height="5" fill="#000"/>
<rect x="563" y="268" width="1" height="3" fill="#fff"/>
<rect x="567" y="262" width="1" height="9" fill="#000"/>
<rect x="566" y="267" width="3" height="1" fill="#000"/>
<rect x="571" y="266" width="1" height="12" fill="#000"/>
<rect x="570" y="267" width="3" height="2" fill="#000"/>
<rect x="575" y="267" width="1" height="10" fill="#000"/>
<rect x="574" y="270" width="3" height="1" fill="#000"/>
<rect x="579" y="259" width="1" height="21" fill="#000"/>
<rect x="578" y="267" width="3" height="4" fill="#000"/>
<rect x="579" y="268" width="1" height="2" fill="#fff"/>
<rect x="583" y="241" width="1" height="33" fill="#000"/>
<rect x="582" y="242" width="3" height="26" fill="#000"/>
<rect x="583" y="243" width="1" height="24" fill="#fff"/>
<rect x="587" y="234" width="1" height="19" fill="#000"/>
<rect x="586" y="242" width="3" height="7" fill="#000"/>
<rect x="591" y="239" width="1" height="14" fill="#000"/>
<rect x="590" y="240" width="3" height="8" fill="#000"/>
<rect x="591" y="241" width="1" height="6" fill="#fff"/>
<rect x="595" y="234" width="1" height="17" fill="#000"/>
<rect x="594" y="239" width="3" height="1" fill="#000"/>
<rect x="599" y="229" width="1" height="11" fill="#000"/>
<rect x="598" y="232" width="3" height="7" fill="#000"/>
<rect x="599" y="233" width="1" height="5" fill="#fff"/>
<rect x="603" y="228" width="1" height="16" fill="#000"/>
<rect x="602" y="231" width="3" height="1" fill="#000"/>
<rect x="607" y="216" width="1" height="24" fill="#000"/>
<rect x="606" y="228" width="3" height="4" fill="#000"/>
<rect x="607" y="229" width="1" height="2" fill="#fff"/>
<rect x="611" y="223" width="1" height="21" fill="#000"/>
<rect x="610" y="228" width="3" height="11" fill="#000"/>
<rect x="615" y="231" width="1" height="11" fill="#000"/>
<rect x="614" y="236" width="3" height="4" fill="#000"/>
<rect x="615" y="237" width="1" height="2" fill="#fff"/>
<rect x="619" y="230" width="1" height="10" fill="#000"/>
<rect x="618" y="233" width="3" height="3" fill="#000"/>
<rect x="619" y="234" width="1" height="1" fill="#fff"/>
<rect x="623" y="232" width="1" height="9" fill="#000"/>
<rect x="622" y="233" width="3" height="7" fill="#000"/>
<rect x="627" y="231" width="1" height="15" fill="#000"/>
<rect x="626" y="241" width="3" height="3" fill="#000"/>
</g>
<g shape-rendering="crispEdges">
<polyline fill="none" stroke="#FF0000" stroke-width="1" stroke-dasharray="3,3" points="3.5,362.2 10.0,363.5 15.5,365.0 22.5,363.0 30.0,359.2 37.5,354.2 45.0,349.2 52.5,346.8 65.0,345.5 80.0,346.8 90.0,350.5 100.0,354.2 110.0,356.8 120.0,356.8 130.0,355.0 140.0,356.0 150.0,359.2 160.0,364.2 165.0,368.5 172.5,370.5 177.5,373.0 190.0,374.2 197.5,374.2 207.5,372.5 215.0,369.2 225.0,365.5 237.5,361.8 250.0,359.2 257.5,360.5 267.5,364.2 277.5,365.0 287.5,363.0 297.5,358.0 307.5,355.5 317.5,356.0 325.0,359.2 332.5,365.0 340.0,371.8 347.5,378.0 355.0,384.2 362.5,390.5 370.0,395.0 376.2,398.0 387.5,398.0 395.0,394.2 401.2,389.2 406.2,383.0 412.5,375.5 420.0,368.0 426.2,361.8 431.2,357.5 440.0,356.0 445.0,354.5 452.5,354.2 457.5,352.5 465.0,351.0 475.0,349.5 490.0,349.0 505.0,348.5 515.0,347.5 525.0,346.0 535.0,345.5 545.0,346.8 555.0,349.2 562.5,353.0 570.0,357.5 577.5,361.8 585.0,363.5 592.5,364.0 600.0,362.5 607.5,360.0 615.0,356.8 621.2,354.0 627.5,352.0"/>
<polyline fill="none" stroke="#20B2AA" stroke-width="1" points="3.0,444.0 7.0,429.0 12.0,423.0 20.0,418.0 27.0,415.0 33.0,420.0 36.0,428.0 39.0,438.0 43.0,441.0 48.0,447.0 51.6,443.6 56.0,453.0 60.0,458.0 64.0,462.0 68.0,459.6 71.0,464.0 76.0,471.6 80.0,474.0 86.0,470.4 92.0,467.0 96.0,461.0 100.0,440.0 103.4,425.0 108.0,432.0 112.0,441.0 116.0,451.0 120.0,457.0 128.0,450.4 130.0,457.0 133.0,464.0 137.0,471.0 142.0,474.0 147.0,475.0 151.0,470.0 155.0,463.0 159.4,455.6 162.0,461.0 165.0,466.0 169.0,470.0 171.4,471.0 175.0,456.0 179.0,444.0 183.4,427.6 187.4,434.0 192.0,435.0 195.4,447.0 199.0,440.0 203.0,438.0 207.6,426.4 211.0,429.6 215.0,433.0 219.0,433.6 223.6,429.0 228.0,435.0 232.0,452.0 236.0,465.0 242.0,468.4 248.0,469.0 251.4,471.0 255.0,469.0 260.0,471.0 264.0,464.0 268.0,456.0 271.0,440.0 275.0,426.0 279.0,424.4 284.0,428.0 289.0,428.0 293.0,435.0 296.0,448.0 299.0,462.0 301.0,465.6 305.0,466.4 310.0,463.6 316.0,465.0 320.0,468.0 324.0,474.0 329.0,468.0 335.6,459.6 339.6,464.0 343.0,471.0 347.6,473.0 352.0,470.0 358.0,466.0 363.0,467.6 367.0,465.0 371.0,469.0 375.0,458.0 379.0,440.0 383.0,423.0 387.0,417.0 392.0,416.4 396.0,415.6 399.0,420.0 404.0,427.0 409.0,436.0 414.0,444.0 419.0,458.0 423.0,469.0 427.4,472.4 431.0,468.0 436.0,469.0 439.0,460.0 443.0,453.0 447.0,438.0 451.0,430.0 455.0,427.0 459.0,431.0 464.0,443.0 467.0,445.0 471.0,458.0 475.0,461.0 479.4,469.6 484.0,464.0 488.0,455.0 492.0,436.0 496.0,427.6 499.0,426.4 503.0,433.0 507.0,441.0 511.4,454.4 515.6,453.6 520.0,440.0 523.6,427.0 527.6,432.0 531.0,442.0 535.0,456.0 539.0,466.0 544.0,465.0 550.0,466.0 555.0,469.0 559.0,470.4 563.0,466.0 567.0,457.0 571.0,451.0 576.0,449.6 580.0,441.0 584.0,429.0 588.0,423.0 592.0,421.6 596.0,422.0 600.0,417.0 603.6,416.4 607.0,422.0 610.0,434.0 614.0,445.0 618.0,454.0 622.0,461.0 627.0,465.0"/>
<polyline fill="none" stroke="#FF0000" stroke-width="1" stroke-dasharray="3,3" points="3.0,456.0 8.0,441.0 12.0,430.0 16.0,423.0 22.0,418.0 30.0,416.4 36.0,422.0 40.0,428.0 45.0,438.0 50.0,443.0 56.0,449.0 62.0,457.0 68.0,460.4 74.0,464.0 80.0,471.0 84.0,473.0 90.0,470.4 95.0,466.0 99.0,456.0 103.0,441.0 108.0,430.0 113.0,434.0 118.0,446.0 124.0,453.0 130.0,454.4 132.0,457.0 136.0,462.0 141.0,470.0 146.0,474.0 151.0,473.0 156.0,467.0 161.0,461.0 166.0,462.0 171.0,468.0 175.0,465.0 180.0,453.0 184.0,442.0 188.0,435.0 193.0,434.4 197.0,439.6 203.0,439.6 208.0,434.0 214.0,431.0 219.0,432.0 225.0,431.6 231.0,437.0 236.0,451.0 240.0,462.0 244.0,467.6 250.0,469.0 258.0,469.6 262.0,469.0 266.0,466.0 271.0,455.0 275.0,441.0 279.0,427.0 283.0,425.6 289.0,428.0 294.0,434.0 298.0,446.0 302.0,458.0 307.0,464.0 313.0,464.4 319.0,466.4 325.0,469.0 330.0,468.0 335.0,464.0 340.0,462.4 345.0,467.0 350.0,471.0 356.0,469.0 362.0,467.0 368.0,466.0 372.0,465.6 377.0,457.0 382.0,441.0 387.0,427.0 392.0,418.0 397.0,416.4 401.0,418.0 406.0,424.0 411.0,434.0 416.0,443.0 421.0,453.0 425.0,465.0 431.0,470.0 437.0,469.0 442.0,462.0 447.0,451.0 451.0,439.0 456.0,431.0 460.0,429.6 465.0,435.0 470.0,445.0 475.0,455.0 480.0,463.6 485.0,465.0 490.0,456.0 495.0,442.0 500.0,429.0 505.0,431.0 510.0,438.0 514.0,448.0 518.0,449.0 523.0,442.0 528.0,433.6 532.0,435.0 536.0,445.0 540.0,458.0 545.0,465.0 551.0,466.0 557.0,468.0 563.0,468.0 568.0,462.0 573.0,455.0 578.0,450.0 583.0,442.0 588.0,432.0 593.0,424.0 598.0,421.0 603.0,417.6 607.0,419.0 611.0,426.0 615.0,436.0 619.0,446.0 623.0,455.0 625.0,457.6"/>
</g>
<g shape-rendering="crispEdges" fill="#000">
<rect x="2" y="2" width="653" height="1"/>
<rect x="2" y="337" width="653" height="1"/>
<rect x="2" y="2" width="1" height="336"/>
<rect x="654" y="2" width="1" height="336"/>
<rect x="2" y="339" width="653" height="1"/>
<rect x="2" y="407" width="653" height="1"/>
<rect x="2" y="339" width="1" height="69"/>
<rect x="654" y="339" width="1" height="69"/>
<rect x="2" y="409" width="653" height="1"/>
<rect x="2" y="479" width="653" height="1"/>
<rect x="2" y="409" width="1" height="71"/>
<rect x="654" y="409" width="1" height="71"/>
<rect x="655" y="4" width="2" height="1"/>
<rect x="655" y="37" width="2" height="1"/>
<rect x="655" y="70" width="2" height="1"/>
<rect x="655" y="169" width="2" height="1"/>
<rect x="655" y="202" width="2" height="1"/>
<rect x="655" y="235" width="2" height="1"/>
<rect x="655" y="268" width="2" height="1"/>
<rect x="655" y="301" width="2" height="1"/>
<rect x="655" y="334" width="2" height="1"/>
<rect x="655" y="341" width="1" height="1"/>
<rect x="655" y="350" width="1" height="1"/>
<rect x="655" y="406" width="1" height="1"/>
<rect x="655" y="411" width="1" height="1"/>
<rect x="655" y="478" width="1" height="1"/>
<rect x="3" y="480" width="1" height="3"/>
<rect x="67" y="480" width="1" height="3"/>
<rect x="131" y="480" width="1" height="3"/>
<rect x="195" y="480" width="1" height="3"/>
<rect x="259" y="480" width="1" height="3"/>
<rect x="323" y="480" width="1" height="3"/>
<rect x="387" y="480" width="1" height="3"/>
<rect x="451" y="480" width="1" height="3"/>
<rect x="515" y="480" width="1" height="3"/>
<rect x="579" y="480" width="1" height="3"/>
</g>
<text x="660.3" y="8" font-size="10" fill="#000" stroke="#000" stroke-width="0.1" textLength="32.8" lengthAdjust="spacingAndGlyphs">0.97540</text>
<text x="660.3" y="41" font-size="10" fill="#000" stroke="#000" stroke-width="0.1" textLength="32.8" lengthAdjust="spacingAndGlyphs">0.97160</text>
<text x="660.3" y="74" font-size="10" fill="#000" stroke="#000" stroke-width="0.1" textLength="32.8" lengthAdjust="spacingAndGlyphs">0.96770</text>
<text x="660.3" y="173" font-size="10" fill="#000" stroke="#000" stroke-width="0.1" textLength="32.8" lengthAdjust="spacingAndGlyphs">0.95620</text>
<text x="660.3" y="206" font-size="10" fill="#000" stroke="#000" stroke-width="0.1" textLength="32.8" lengthAdjust="spacingAndGlyphs">0.95240</text>
<text x="660.3" y="239" font-size="10" fill="#000" stroke="#000" stroke-width="0.1" textLength="32.8" lengthAdjust="spacingAndGlyphs">0.94850</text>
<text x="660.3" y="272" font-size="10" fill="#000" stroke="#000" stroke-width="0.1" textLength="32.8" lengthAdjust="spacingAndGlyphs">0.94470</text>
<text x="660.3" y="305" font-size="10" fill="#000" stroke="#000" stroke-width="0.1" textLength="32.8" lengthAdjust="spacingAndGlyphs">0.94080</text>
<text x="660.3" y="338" font-size="10" fill="#000" stroke="#000" stroke-width="0.1" textLength="32.8" lengthAdjust="spacingAndGlyphs">0.93700</text>
<rect x="656" y="100" width="41" height="11" fill="#FF0000" shape-rendering="crispEdges"/>
<rect x="655" y="103" width="1" height="1" fill="#000" shape-rendering="crispEdges"/>
<text x="660.6" y="109" font-size="10" fill="#fff" stroke="#fff" stroke-width="0.1" textLength="32.3" lengthAdjust="spacingAndGlyphs">0.96350</text>
<rect x="656" y="131" width="41" height="11" fill="#FF0000" shape-rendering="crispEdges"/>
<rect x="655" y="134" width="1" height="1" fill="#000" shape-rendering="crispEdges"/>
<text x="660.6" y="140" font-size="10" fill="#fff" stroke="#fff" stroke-width="0.1" textLength="32.3" lengthAdjust="spacingAndGlyphs">0.96000</text>
<rect x="656" y="173" width="41" height="11" fill="#FF0000" shape-rendering="crispEdges"/>
<rect x="655" y="176" width="1" height="1" fill="#000" shape-rendering="crispEdges"/>
<text x="660.6" y="182" font-size="10" fill="#fff" stroke="#fff" stroke-width="0.1" textLength="32.3" lengthAdjust="spacingAndGlyphs">0.95500</text>
<rect x="656" y="191" width="41" height="11" fill="#FF0000" shape-rendering="crispEdges"/>
<rect x="655" y="194" width="1" height="1" fill="#000" shape-rendering="crispEdges"/>
<text x="660.6" y="200" font-size="10" fill="#fff" stroke="#fff" stroke-width="0.1" textLength="32.3" lengthAdjust="spacingAndGlyphs">0.95300</text>
<rect x="656" y="216" width="41" height="11" fill="#FF0000" shape-rendering="crispEdges"/>
<rect x="655" y="219" width="1" height="1" fill="#000" shape-rendering="crispEdges"/>
<text x="660.6" y="225" font-size="10" fill="#fff" stroke="#fff" stroke-width="0.1" textLength="32.3" lengthAdjust="spacingAndGlyphs">0.95000</text>
<rect x="656" y="259" width="41" height="11" fill="#FF0000" shape-rendering="crispEdges"/>
<rect x="655" y="262" width="1" height="1" fill="#000" shape-rendering="crispEdges"/>
<text x="660.6" y="268" font-size="10" fill="#fff" stroke="#fff" stroke-width="0.1" textLength="32.3" lengthAdjust="spacingAndGlyphs">0.94500</text>
<rect x="656" y="285" width="41" height="11" fill="#FF0000" shape-rendering="crispEdges"/>
<rect x="655" y="288" width="1" height="1" fill="#000" shape-rendering="crispEdges"/>
<text x="660.6" y="294" font-size="10" fill="#fff" stroke="#fff" stroke-width="0.1" textLength="32.3" lengthAdjust="spacingAndGlyphs">0.94200</text>
<rect x="656" y="324" width="41" height="11" fill="#FF0000" shape-rendering="crispEdges"/>
<rect x="655" y="327" width="1" height="1" fill="#000" shape-rendering="crispEdges"/>
<text x="660.6" y="333" font-size="10" fill="#fff" stroke="#fff" stroke-width="0.1" textLength="32.3" lengthAdjust="spacingAndGlyphs">0.93750</text>
<rect x="656" y="238" width="41" height="11" fill="#000" shape-rendering="crispEdges"/>
<text x="660.6" y="247" font-size="10" fill="#fff" stroke="#fff" stroke-width="0.1" textLength="32.3" lengthAdjust="spacingAndGlyphs">0.94758</text>
<text x="658.6" y="350" font-size="10" fill="#000" stroke="#000" stroke-width="0.1" textLength="37.7" lengthAdjust="spacingAndGlyphs">0.000826</text>
<text x="658.6" y="354" font-size="10" fill="#000" stroke="#000" stroke-width="0.1" textLength="16.8" lengthAdjust="spacingAndGlyphs">0.00</text>
<text x="657.9" y="404" font-size="10" fill="#000" stroke="#000" stroke-width="0.1" textLength="36.6" lengthAdjust="spacingAndGlyphs">-0.00513</text>
<text x="658.3" y="420" font-size="10" fill="#000" stroke="#000" stroke-width="0.1" textLength="15.5" lengthAdjust="spacingAndGlyphs">100</text>
<text x="656.9" y="428" font-size="10" fill="#000" stroke="#000" stroke-width="0.1" textLength="10" lengthAdjust="spacingAndGlyphs">80</text>
<text x="657.2" y="469" font-size="10" fill="#000" stroke="#000" stroke-width="0.1" textLength="9.9" lengthAdjust="spacingAndGlyphs">20</text>
<text x="658.2" y="476" font-size="10" fill="#000" stroke="#000" stroke-width="0.1" textLength="5" lengthAdjust="spacingAndGlyphs">0</text>
<polygon points="5.5,9.5 12.5,9.5 9,13" fill="#000"/>
<text x="18.7" y="14" font-size="10" fill="#000" stroke="#000" stroke-width="0.1" textLength="55" lengthAdjust="spacingAndGlyphs">USDCHF,H4</text>
<text x="7.5" y="352" font-size="10" fill="#000" stroke="#000" stroke-width="0.1" textLength="154.2" lengthAdjust="spacingAndGlyphs">MACD(12,26,9) -0.000022 -0.000203</text>
<text x="7.6" y="422" font-size="10" fill="#000" stroke="#000" stroke-width="0.1" textLength="121.2" lengthAdjust="spacingAndGlyphs">Stoch(5,3,3) 19.2097 25.5243</text>
<text x="2.5" y="492" font-size="10" fill="#000" stroke="#000" stroke-width="0.1" textLength="55.5" lengthAdjust="spacingAndGlyphs">21 May 2020</text>
<text x="66" y="492" font-size="10" fill="#000" stroke="#000" stroke-width="0.1" textLength="58.6" lengthAdjust="spacingAndGlyphs">26 May 00:00</text>
<text x="130" y="492" font-size="10" fill="#000" stroke="#000" stroke-width="0.1" textLength="58" lengthAdjust="spacingAndGlyphs">28 May 16:00</text>
<text x="194.5" y="492" font-size="10" fill="#000" stroke="#000" stroke-width="0.1" textLength="47.5" lengthAdjust="spacingAndGlyphs">2 Jun 08:00</text>
<text x="258.7" y="492" font-size="10" fill="#000" stroke="#000" stroke-width="0.1" textLength="47.4" lengthAdjust="spacingAndGlyphs">5 Jun 00:00</text>
<text x="322.5" y="492" font-size="10" fill="#000" stroke="#000" stroke-width="0.1" textLength="47.5" lengthAdjust="spacingAndGlyphs">9 Jun 16:00</text>
<text x="387" y="492" font-size="10" fill="#000" stroke="#000" stroke-width="0.1" textLength="52.7" lengthAdjust="spacingAndGlyphs">12 Jun 08:00</text>
<text x="450.7" y="492" font-size="10" fill="#000" stroke="#000" stroke-width="0.1" textLength="52.7" lengthAdjust="spacingAndGlyphs">17 Jun 00:00</text>
<text x="515" y="492" font-size="10" fill="#000" stroke="#000" stroke-width="0.1" textLength="53" lengthAdjust="spacingAndGlyphs">19 Jun 16:00</text>
<text x="578.7" y="492" font-size="10" fill="#000" stroke="#000" stroke-width="0.1" textLength="52.5" lengthAdjust="spacingAndGlyphs">24 Jun 08:00</text>
</svg>
</body></html>
